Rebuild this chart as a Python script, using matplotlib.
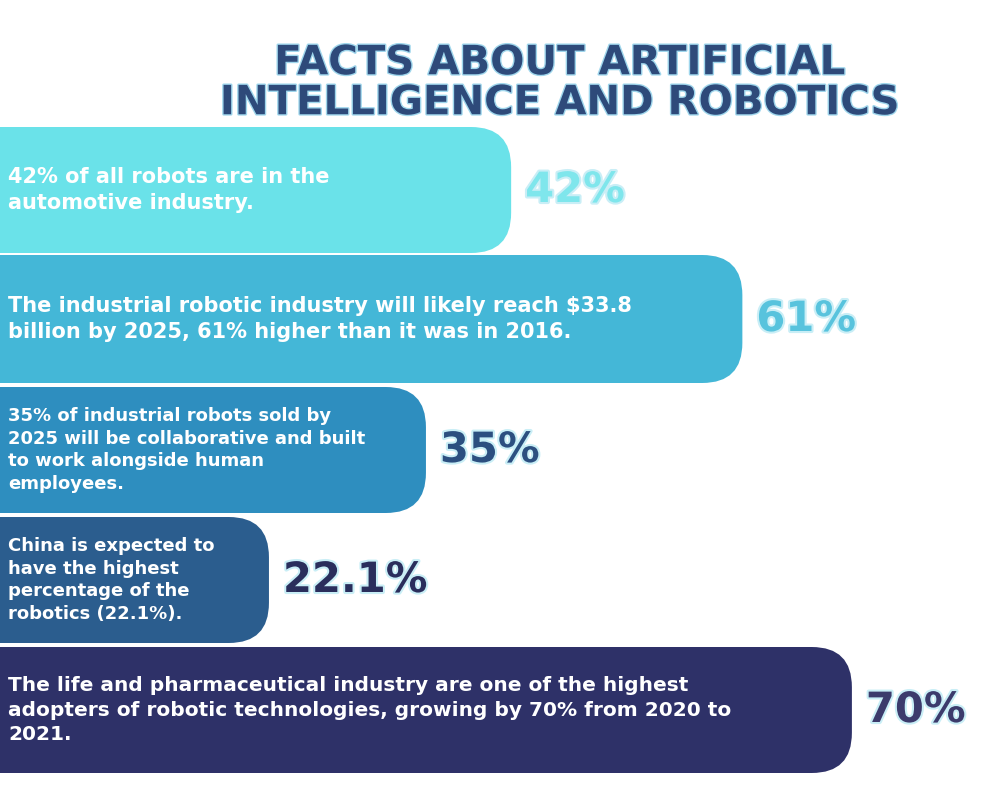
import matplotlib
matplotlib.use("Agg")
import matplotlib.pyplot as plt
from matplotlib.patches import FancyBboxPatch
import matplotlib.patheffects as pe

# ---- data ----
values = [42, 61, 35, 22.1, 70]
value_labels = ["42%", "61%", "35%", "22.1%", "70%"]
texts = [
    "42% of all robots are in the\nautomotive industry.",
    "The industrial robotic industry will likely reach $33.8\nbillion by 2025, 61% higher than it was in 2016.",
    "35% of industrial robots sold by\n2025 will be collaborative and built\nto work alongside human\nemployees.",
    "China is expected to\nhave the highest\npercentage of the\nrobotics (22.1%).",
    "The life and pharmaceutical industry are one of the highest\nadopters of robotic technologies, growing by 70% from 2020 to\n2021.",
]
title = "FACTS ABOUT ARTIFICIAL\nINTELLIGENCE AND ROBOTICS"

# ---- styles ----
bar_colors = ["#6ae2e9", "#44b7d7", "#2e8ebf", "#2b5d8e", "#2e3168"]
label_colors = ["#7fe6ec", "#58c3dd", "#2c4f80", "#2a2e5c", "#3c3b6c"]
text_sizes = [15, 15, 13, 13, 14.5]
label_sizes = [30, 30, 30, 30, 30]
px_per_unit = 12.17
tops = [127, 255, 387, 517, 647]
heights = [126, 128, 126, 126, 126]

fig = plt.figure(figsize=(9.86, 7.86), dpi=100)
ax = fig.add_axes([0, 0, 1, 1])
ax.set_xlim(0, 986 / px_per_unit)
ax.set_ylim(786, 0)
ax.axis("off")

fig.text(0.568, 0.945, title, ha="center", va="top", fontsize=29,
         fontweight="bold", color="#2e4a7a", linespacing=1.0,
         path_effects=[pe.withStroke(linewidth=2, foreground="#9fd6ec")])

rad = 40 / px_per_unit
for v, lab, txt, col, lcol, ts, ls, t, h in zip(values, value_labels, texts, bar_colors,
                                               label_colors, text_sizes, label_sizes, tops, heights):
    box = FancyBboxPatch((-10, t), v + 10, h,
                         boxstyle="round,pad=0,rounding_size=3.3",
                         mutation_aspect=px_per_unit,
                         facecolor=col, edgecolor="none")
    ax.add_patch(box)
    ax.text(8 / px_per_unit, t + h / 2, txt, ha="left", va="center", fontsize=ts,
            fontweight="bold", color="white", linespacing=1.35)
    ax.text(v + 14 / px_per_unit, t + h / 2, lab, ha="left", va="center", fontsize=ls,
            fontweight="bold", color=lcol,
            path_effects=[pe.withStroke(linewidth=3, foreground="#c9eef6")])

fig.savefig("out.png", dpi=100, facecolor="white")
